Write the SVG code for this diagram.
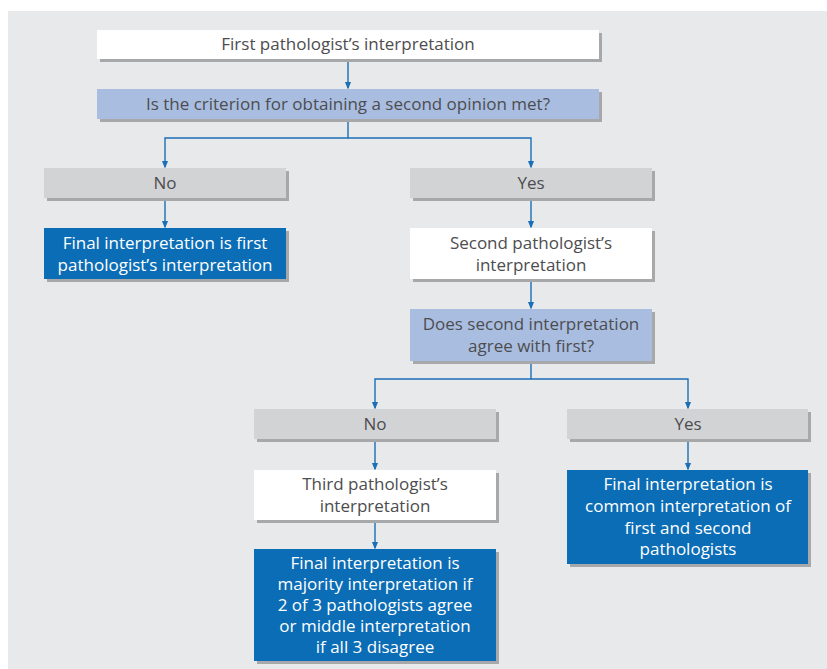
<svg xmlns="http://www.w3.org/2000/svg" width="827" height="669" viewBox="0 0 827 669">
<defs>
<marker id="ah" markerWidth="8" markerHeight="10" refX="8" refY="4" orient="auto" markerUnits="userSpaceOnUse" viewBox="0 0 10 8">
<path d="M0,0 L10,4 L0,8 Z" fill="#1b6fb6"/>
</marker>
</defs>
<style>
.sh{fill:#a7a8aa}
.w{fill:#ffffff}
.q{fill:#a9bde1}
.g{fill:#d2d3d5}
.b{fill:#0b6db5}
text{font-family:"Open Sans","Liberation Sans",sans-serif;font-size:17px;text-anchor:middle}
.dk{fill:#4d4d4f}
.lt{fill:#ffffff}
.c{fill:none;stroke:#1b6fb6;stroke-width:1.4}
</style>
<rect x="8" y="11" width="819" height="658" fill="#e8e9eb"/>
<g id="connectors">
<path class="c" d="M348,59 V88" marker-end="url(#ah)"/>
<path class="c" d="M348,119 V138 H165 V167" marker-end="url(#ah)"/>
<path class="c" d="M348,138 H531 V167" marker-end="url(#ah)"/>
<path class="c" d="M165,198 V227" marker-end="url(#ah)"/>
<path class="c" d="M531,198 V227" marker-end="url(#ah)"/>
<path class="c" d="M531,279 V308" marker-end="url(#ah)"/>
<path class="c" d="M531,361 V379 H375 V408" marker-end="url(#ah)"/>
<path class="c" d="M531,379 H688 V408" marker-end="url(#ah)"/>
<path class="c" d="M375,439 V469" marker-end="url(#ah)"/>
<path class="c" d="M688,439 V469" marker-end="url(#ah)"/>
<path class="c" d="M375,520 V548" marker-end="url(#ah)"/>
</g>
<g id="first">
<rect class="sh" x="100" y="33" width="502" height="29"/>
<rect class="w" x="97" y="30" width="502" height="29"/>
<text class="dk" x="348" y="50">First pathologist’s interpretation</text>
</g>
<g id="criterion">
<rect class="sh" x="100" y="92" width="502" height="30"/>
<rect class="q" x="97" y="89" width="502" height="30"/>
<text class="dk" x="348" y="110">Is the criterion for obtaining a second opinion met?</text>
</g>
<g id="no1">
<rect class="sh" x="47" y="171" width="242" height="30"/>
<rect class="g" x="44" y="168" width="242" height="30"/>
<text class="dk" x="165" y="189">No</text>
</g>
<g id="yes1">
<rect class="sh" x="413" y="171" width="242" height="30"/>
<rect class="g" x="410" y="168" width="242" height="30"/>
<text class="dk" x="531" y="189">Yes</text>
</g>
<g id="final1">
<rect class="sh" x="47" y="231" width="242" height="51"/>
<rect class="b" x="44" y="228" width="242" height="51"/>
<text class="lt" x="165" y="249">Final interpretation is first</text>
<text class="lt" x="165" y="271">pathologist’s interpretation</text>
</g>
<g id="second">
<rect class="sh" x="413" y="231" width="242" height="51"/>
<rect class="w" x="410" y="228" width="242" height="51"/>
<text class="dk" x="531" y="249">Second pathologist’s</text>
<text class="dk" x="531" y="271">interpretation</text>
</g>
<g id="agree">
<rect class="sh" x="413" y="312" width="242" height="52"/>
<rect class="q" x="410" y="309" width="242" height="52"/>
<text class="dk" x="531" y="330">Does second interpretation</text>
<text class="dk" x="531" y="352">agree with first?</text>
</g>
<g id="no2">
<rect class="sh" x="257" y="412" width="242" height="30"/>
<rect class="g" x="254" y="409" width="242" height="30"/>
<text class="dk" x="375" y="430">No</text>
</g>
<g id="yes2">
<rect class="sh" x="570" y="412" width="241" height="30"/>
<rect class="g" x="567" y="409" width="241" height="30"/>
<text class="dk" x="688" y="430">Yes</text>
</g>
<g id="third">
<rect class="sh" x="257" y="473" width="242" height="50"/>
<rect class="w" x="254" y="470" width="242" height="50"/>
<text class="dk" x="375" y="490">Third pathologist’s</text>
<text class="dk" x="375" y="512">interpretation</text>
</g>
<g id="common">
<rect class="sh" x="570" y="473" width="241" height="94"/>
<rect class="b" x="567" y="470" width="241" height="94"/>
<text class="lt" x="688" y="490">Final interpretation is</text>
<text class="lt" x="688" y="512">common interpretation of</text>
<text class="lt" x="688" y="534">first and second</text>
<text class="lt" x="688" y="555">pathologists</text>
</g>
<g id="majority">
<rect class="sh" x="257" y="552" width="242" height="112"/>
<rect class="b" x="254" y="549" width="242" height="112"/>
<text class="lt" x="375" y="569">Final interpretation is</text>
<text class="lt" x="375" y="590">majority interpretation if</text>
<text class="lt" x="375" y="611">2 of 3 pathologists agree</text>
<text class="lt" x="375" y="632">or middle interpretation</text>
<text class="lt" x="375" y="653">if all 3 disagree</text>
</g>
</svg>
